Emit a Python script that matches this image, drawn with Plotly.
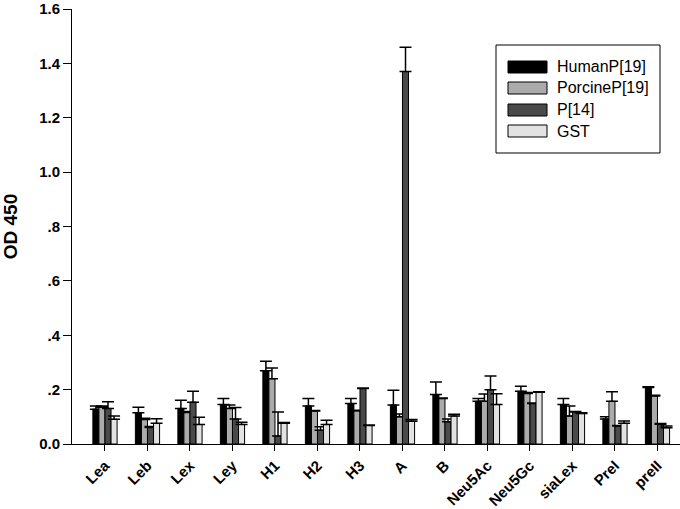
import plotly.graph_objects as go

categories = ["Lea", "Leb", "Lex", "Ley", "H1", "H2", "H3", "A", "B",
              "Neu5Ac", "Neu5Gc", "siaLex", "PreI", "preII"]

human = [0.128, 0.115, 0.131, 0.145, 0.269, 0.140, 0.149, 0.143, 0.182, 0.157, 0.194, 0.145, 0.092, 0.208]
human_err = [0.012, 0.020, 0.030, 0.022, 0.035, 0.027, 0.018, 0.055, 0.046, 0.010, 0.018, 0.022, 0.008, 0.003]

porcine = [0.135, 0.090, 0.116, 0.131, 0.240, 0.121, 0.122, 0.100, 0.167, 0.157, 0.186, 0.103, 0.157, 0.177]
porcine_err = [0.005, 0.005, 0.004, 0.012, 0.040, 0.002, 0.002, 0.010, 0.002, 0.027, 0.003, 0.037, 0.035, 0.002]

p14 = [0.131, 0.061, 0.154, 0.092, 0.029, 0.051, 0.204, 1.370, 0.082, 0.200, 0.149, 0.118, 0.066, 0.073]
p14_err = [0.024, 0.003, 0.040, 0.042, 0.089, 0.012, 0.002, 0.089, 0.010, 0.050, 0.002, 0.002, 0.002, 0.002]

gst = [0.091, 0.076, 0.072, 0.072, 0.076, 0.072, 0.068, 0.084, 0.103, 0.145, 0.190, 0.112, 0.076, 0.060]
gst_err = [0.012, 0.017, 0.026, 0.008, 0.003, 0.015, 0.002, 0.006, 0.006, 0.040, 0.002, 0.003, 0.009, 0.006]

series_names = ["HumanP[19]", "PorcineP[19]", "P[14]", "GST"]
series_colors = ["#000000", "#ababab", "#4a4a4a", "#e2e2e2"]
series_vals = [human, porcine, p14, gst]
series_errs = [human_err, porcine_err, p14_err, gst_err]

ytick_vals = [0, 0.2, 0.4, 0.6, 0.8, 1.0, 1.2, 1.4, 1.6]
ytick_text = ["0.0", ".2", ".4", ".6", ".8", "1.0", "1.2", "1.4", "1.6"]

FONT = "Liberation Sans, Arial, sans-serif"

fig = go.Figure()
for name, color, vals, errs in zip(series_names, series_colors, series_vals, series_errs):
    fig.add_trace(go.Bar(
        x=list(range(len(categories))), y=vals, name=name,
        marker=dict(color=color, line=dict(color="#000000", width=1)),
        error_y=dict(type="data", array=errs, symmetric=False,
                     arrayminus=[0] * len(errs), color="#000000",
                     thickness=1.5, width=6),
        showlegend=False,
    ))

# Legend drawn as box, swatches and text (paper coordinates)
PL, PR, PT, PB = 72, 680, 9, 444
def px(x):
    return (x - PL) / (PR - PL)
def py(y):
    return (PB - y) / (PB - PT)

shapes = [dict(type="rect", xref="paper", yref="paper",
               x0=px(496), x1=px(660), y0=py(153), y1=py(45),
               line=dict(color="#000000", width=1), fillcolor="rgba(0,0,0,0)")]
annotations = []
row_y = [67, 88, 110, 131]
for name, color, ry in zip(series_names, series_colors, row_y):
    shapes.append(dict(type="rect", xref="paper", yref="paper",
                       x0=px(508), x1=px(547), y0=py(ry + 6), y1=py(ry - 6),
                       line=dict(color="#000000", width=1), fillcolor=color))
    annotations.append(dict(xref="paper", yref="paper", x=px(555), y=py(ry),
                            text=name, showarrow=False, xanchor="left", yanchor="middle",
                            font=dict(family=FONT, size=16, color="#000000")))

fig.update_layout(
    width=680, height=509,
    margin=dict(l=PL, r=680 - PR, t=PT, b=509 - PB, autoexpand=False),
    paper_bgcolor="white", plot_bgcolor="white",
    barmode="group", bargap=0.43, bargroupgap=0,
    shapes=shapes, annotations=annotations,
    font=dict(family=FONT, color="#000000"),
)
fig.update_xaxes(
    range=[-0.776, 13.53], showgrid=False, zeroline=False, automargin=False,
    showline=True, linecolor="#000000", linewidth=1,
    tickmode="array", tickvals=list(range(len(categories))), ticktext=categories,
    ticks="outside", ticklen=6, tickcolor="#000000", tickangle=-45,
    ticklabeloverflow="allow",
    tickfont=dict(family=FONT, size=15, weight="bold", color="#000000"),
)
fig.update_yaxes(
    range=[0, 1.6001], showgrid=False, zeroline=False, automargin=False,
    showline=True, linecolor="#000000", linewidth=1,
    tickmode="array", tickvals=ytick_vals, ticktext=ytick_text,
    ticks="outside", ticklen=8, tickcolor="#000000",
    ticklabeloverflow="allow",
    tickfont=dict(family=FONT, size=15, weight="bold", color="#000000"),
    title=dict(text="OD 450", standoff=18,
               font=dict(family=FONT, size=19, weight="bold", color="#000000")),
)

fig.write_html("out.html", config={"displayModeBar": False},
               post_script="document.body.style.margin='0';document.body.style.overflow='hidden';")
